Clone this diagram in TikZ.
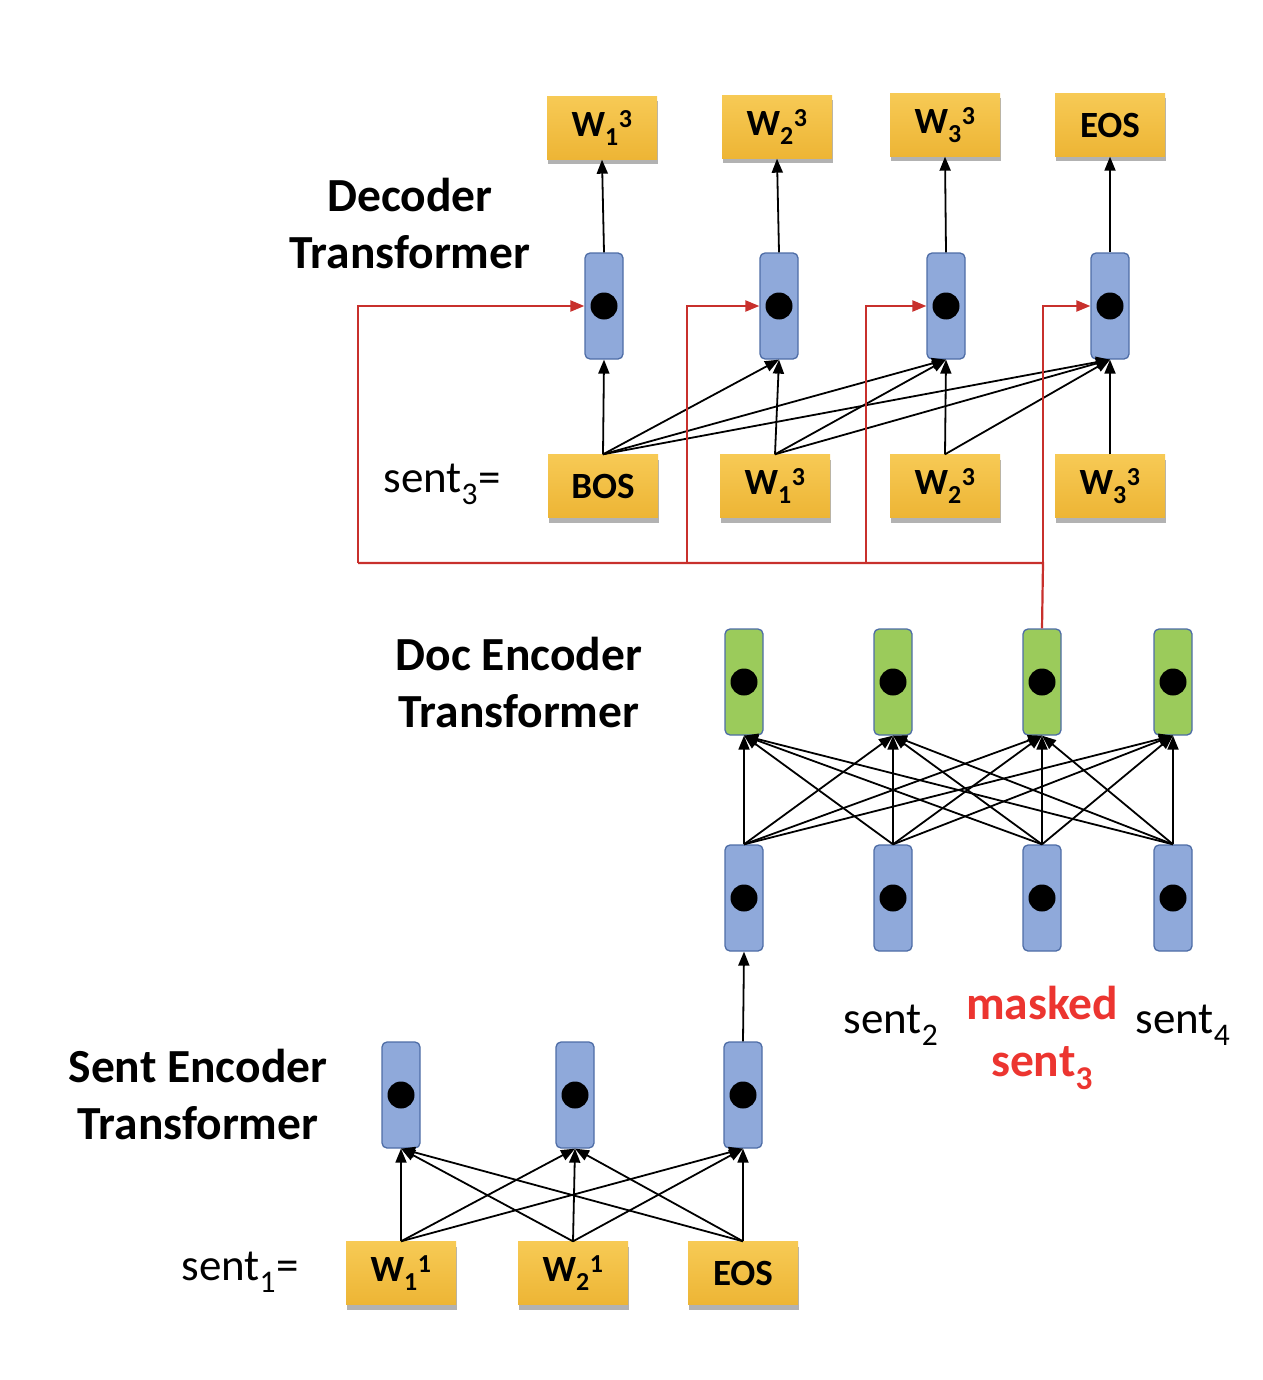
\documentclass[tikz,border=0pt]{standalone}
\usepackage{fontspec}
\setmainfont{Carlito}
\usetikzlibrary{arrows.meta,shadows}
\definecolor{yTop}{HTML}{F7CA55}
\definecolor{yBot}{HTML}{EDB535}
\definecolor{cellBlue}{HTML}{8FA9DA}
\definecolor{cellBorder}{HTML}{4E6DA6}
\definecolor{cellGreen}{HTML}{9BCB5B}
\definecolor{redLine}{HTML}{C8302C}
\definecolor{redText}{HTML}{EC3530}
\begin{document}
\begin{tikzpicture}[x=1pt,y=-1pt,
  wordbox/.style={draw=none, top color=yTop, bottom color=yBot, minimum width=110pt, minimum height=63pt, inner sep=0pt,
     font=\fontsize{37}{40}\selectfont\bfseries,
     drop shadow={shadow xshift=1pt, shadow yshift=-5pt, opacity=0.3, fill=black}},
  cellbox/.style={draw=cellBorder, fill=cellBlue, rounded corners=5pt, minimum width=38pt, minimum height=106pt, line width=1.3pt, inner sep=0pt},
  gcellbox/.style={cellbox, fill=cellGreen},
  title/.style={font=\fontsize{47.5}{57}\selectfont\bfseries, align=center},
  plain/.style={font=\fontsize{45}{54}\selectfont},
  conn/.style={line width=1.8pt, -{Triangle[length=14pt,width=11pt]}},
  redconn/.style={draw=redLine, line width=2.2pt},
  redarrow/.style={redconn, -{Triangle[length=14pt,width=11pt]}}
]
\path[use as bounding box] (0,0) rectangle (1262,1380);

% ---------- Decoder ----------
\node[wordbox] (o1) at (602,128) {W\textsubscript{1}\textsuperscript{3}};
\node[wordbox] (o2) at (777,127) {W\textsubscript{2}\textsuperscript{3}};
\node[wordbox] (o3) at (945,125) {W\textsubscript{3}\textsuperscript{3}};
\node[wordbox] (o4) at (1110,125) {EOS};

\node[cellbox] (d1) at (604,306) {};
\node[cellbox] (d2) at (779,306) {};
\node[cellbox] (d3) at (946,306) {};
\node[cellbox] (d4) at (1110,306) {};

\node[wordbox] (i1) at (603,486) {BOS};
\node[wordbox] (i2) at (775,486) {W\textsubscript{1}\textsuperscript{3}};
\node[wordbox] (i3) at (945,486) {W\textsubscript{2}\textsuperscript{3}};
\node[wordbox] (i4) at (1110,486) {W\textsubscript{3}\textsuperscript{3}};

\node[title] (dectitle) at (410,224) {Decoder\\Transformer};
\node[plain] (s3lab) at (442,484) {sent\textsubscript{3}=};

% ---------- Doc encoder ----------
\node[gcellbox] (g1) at (744,682) {};
\node[gcellbox] (g2) at (893,682) {};
\node[gcellbox] (g3) at (1042,682) {};
\node[gcellbox] (g4) at (1173,682) {};

\node[cellbox] (e1) at (744,898) {};
\node[cellbox] (e2) at (893,898) {};
\node[cellbox] (e3) at (1042,898) {};
\node[cellbox] (e4) at (1173,898) {};

\node[title] (doctitle) at (519,683) {Doc Encoder\\Transformer};
\node[plain] (s2lab) at (891,1025) {sent\textsubscript{2}};
\node[title, text=redText] (masklab) at (1042,1038) {masked\\sent\textsubscript{3}};
\node[plain] (s4lab) at (1183,1025) {sent\textsubscript{4}};

% ---------- Sent encoder ----------
\node[cellbox] (c1) at (401,1095) {};
\node[cellbox] (c2) at (575,1095) {};
\node[cellbox] (c3) at (743,1095) {};

\node[wordbox] (w1) at (401,1273) {W\textsubscript{1}\textsuperscript{1}};
\node[wordbox] (w2) at (573,1273) {W\textsubscript{2}\textsuperscript{1}};
\node[wordbox] (w3) at (743,1273) {EOS};

\node[title] (senttitle) at (198,1094) {Sent Encoder\\Transformer};
\node[plain] (s1lab) at (240,1272) {sent\textsubscript{1}=};

% dots
\foreach \n in {d1,d2,d3,d4,g1,g2,g3,g4,e1,e2,e3,e4,c1,c2,c3}
  \fill (\n.center) circle (13.5pt);

% ---------- Connectors ----------
\foreach \a/\b in {d1/o1,d2/o2,d3/o3,d4/o4}
  \draw[conn] (\a.north) -- (\b.south);
\foreach \a/\b in {i1/d1,i1/d2,i1/d3,i1/d4,i2/d2,i2/d3,i2/d4,i3/d3,i3/d4,i4/d4}
  \draw[conn] (\a.north) -- (\b.south);
\foreach \a in {e1,e2,e3,e4}
  \foreach \b in {g1,g2,g3,g4}
    \draw[conn] (\a.north) -- (\b.south);
\draw[conn] (c3.north) -- (e1.south);
\foreach \a in {w1,w2,w3}
  \foreach \b in {c1,c2,c3}
    \draw[conn] (\a.north) -- (\b.south);

% red routing
\coordinate (rj) at (1043,563);
\coordinate (rl) at (358,563);
\coordinate (rb2) at (687,563);
\coordinate (rb3) at (866,563);
\draw[redconn] (g3.north) -- (rj) -- (rl);
\draw[redarrow] (rl) |- (d1.west);
\draw[redarrow] (rb2) |- (d2.west);
\draw[redarrow] (rb3) |- (d3.west);
\draw[redarrow] (rj) |- (d4.west);
\end{tikzpicture}
\end{document}
